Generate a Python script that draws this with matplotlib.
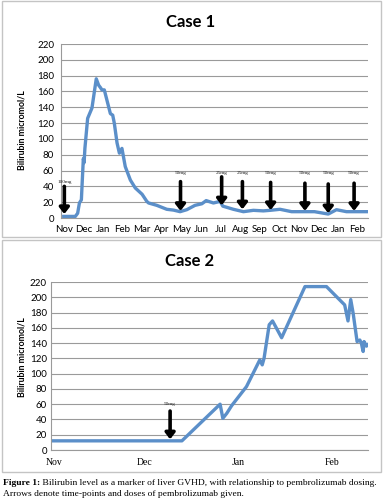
import matplotlib
matplotlib.use("Agg")
import matplotlib.pyplot as plt
from matplotlib.patches import Rectangle

# ---------------- data ----------------
c1_month_labels = ["Nov", "Dec", "Jan", "Feb", "Mar", "Apr", "May", "Jun",
                   "Jul", "Aug", "Sep", "Oct", "Nov", "Dec", "Jan", "Feb"]
c1_x = [0.0, 0.59, 0.71, 0.8, 0.9, 1.0, 1.04, 1.08, 1.22, 1.44, 1.66, 1.78,
        1.87, 1.95, 2.07, 2.38, 2.5, 2.58, 2.72, 2.84, 2.97, 3.14, 3.4, 3.65,
        4.0, 4.24, 4.33, 4.75, 5.26, 5.6, 5.94, 6.28, 6.7, 7.05, 7.27, 7.64,
        7.98, 8.12, 8.66, 9.17, 9.68, 10.19, 10.53, 11.04, 11.63, 12.14, 12.8,
        13.5, 13.92, 14.43, 14.94, 15.53]
c1_y = [2, 2, 6, 19, 23, 75, 70, 88, 126, 139, 176, 168,
        165, 162, 162, 132, 130, 120, 95, 82, 88, 65, 48, 38,
        30, 21, 19, 16, 11, 10, 8, 10.5, 16, 18, 22, 19,
        21, 15, 11, 8, 9.7, 9, 9.7, 11, 8, 8, 8,
        5, 10.5, 8, 8, 8]
c1_dose_x = [0.03, 5.96, 8.06, 9.12, 10.56, 12.31, 13.5, 14.82]
c1_dose_top = [40, 46, 52, 46, 45, 44, 43, 44]
c1_dose_tip = [5, 9, 16, 11, 10, 9, 6, 9]
c1_dose_label = ["100mg", "50mg", "25mg", "25mg", "50mg", "50mg", "50mg", "50mg"]
c1_label_y = [46, 57, 57, 57, 57, 57, 57, 57]

c2_month_labels = ["Nov", "Dec", "Jan", "Feb"]
c2_month_pos = [0, 30, 61, 92]
c2_x = [-0.9, 42.3, 54.9, 55.8, 57.1, 58.7, 63.6, 68.0, 68.8, 69.4, 71.1,
        72.2, 75.2, 82.9, 90.0, 96.0, 97.1, 98.0, 98.8, 100.1, 101.0, 101.5,
        102.1, 102.4, 103.2, 103.7]
c2_y = [12, 12, 60, 41.5, 48, 58, 83, 118, 111.5, 120, 164,
        169, 147, 214, 214, 190, 169, 197, 179, 142, 144, 140,
        129, 142, 136, 138]
c2_dose_x = [38.4]
c2_dose_top = [51]
c2_dose_tip = [14]
c2_dose_label = ["50mg"]
c2_label_y = [60]

yticks = list(range(0, 221, 20))

caption_bold = "Figure 1:"
caption_rest = " Bilirubin level as a marker of liver GVHD, with relationship to pembrolizumab dosing."
caption_line2 = "Arrows denote time-points and doses of pembrolizumab given."

# ---------------- figure ----------------
W, H = 383, 500
fig = plt.figure(figsize=(W / 100, H / 100), dpi=100)
fig.patch.set_facecolor("white")

LINE = "#5B8FC9"
GRID = "#9a9a9a"
SANS = ["Lato", "DejaVu Sans"]
SERIF = ["Liberation Serif", "DejaVu Serif"]

def px_box(l, t, r, b):
    return [l / W, 1 - b / H, (r - l) / W, (b - t) / H]

# panel borders
for (l, t, r, b) in [(2, 1, 381, 237), (2, 240, 381, 472)]:
    fig.patches.append(Rectangle((l / W, 1 - b / H), (r - l) / W, (b - t) / H,
                                 transform=fig.transFigure, fill=False,
                                 edgecolor="#c4c4c4", lw=1.0))

def style_axes(ax):
    ax.set_ylim(0, 220)
    ax.set_yticks(yticks)
    ax.grid(axis="y", color=GRID, lw=0.8)
    ax.set_axisbelow(True)
    for s in ["top", "right"]:
        ax.spines[s].set_visible(False)
    ax.spines["left"].set_color(GRID)
    ax.spines["bottom"].set_color(GRID)
    ax.tick_params(length=0)
    for lab in ax.get_yticklabels():
        lab.set_family(SANS)
        lab.set_fontsize(7)

def draw_doses(ax, xs, tops, tips, labels, label_ys):
    for x, t, p, lab, ly in zip(xs, tops, tips, labels, label_ys):
        ax.annotate("", xy=(x, p), xytext=(x, t),
                    arrowprops=dict(arrowstyle="-|>,head_width=0.35,head_length=0.45",
                                    lw=2.6, color="black", shrinkA=0, shrinkB=0,
                                    mutation_scale=8))
        ax.text(x, ly, lab, ha="center", va="center", fontsize=3.8,
                family=SERIF, color="#222222")

# ---- Case 1 ----
ax1 = fig.add_axes(px_box(61, 44, 368, 218))
ax1.plot(c1_x, c1_y, color=LINE, lw=2.4, solid_joinstyle="round")
ax1.set_xlim(-0.14, 15.53)
ax1.set_xticks(range(len(c1_month_labels)))
ax1.set_xticklabels(c1_month_labels, family=SANS, fontsize=7)
style_axes(ax1)
ax1.tick_params(axis="y", pad=5)
ax1.tick_params(axis="x", pad=5)
draw_doses(ax1, c1_dose_x, c1_dose_top, c1_dose_tip, c1_dose_label, c1_label_y)

fig.text(191 / W, 1 - 22 / H, "Case 1", ha="center", va="center",
         fontsize=12, fontweight="bold", family=SANS)
fig.text(22 / W, 1 - 130 / H, "Bilirubin micromol/L", ha="center", va="center",
         rotation=90, fontsize=6.3, fontweight="bold", family=SANS)

# ---- Case 2 ----
ax2 = fig.add_axes(px_box(51, 282, 368, 450))
ax2.plot(c2_x, c2_y, color=LINE, lw=2.4, solid_joinstyle="round")
ax2.set_xlim(-0.9, 103.7)
ax2.set_xticks(c2_month_pos)
ax2.set_xticklabels(c2_month_labels, family=SERIF, fontsize=7)
style_axes(ax2)
ax2.tick_params(axis="y", pad=3)
ax2.tick_params(axis="x", pad=6)
draw_doses(ax2, c2_dose_x, c2_dose_top, c2_dose_tip, c2_dose_label, c2_label_y)

fig.text(190 / W, 1 - 261 / H, "Case 2", ha="center", va="center",
         fontsize=12, fontweight="bold", family=SANS)
fig.text(22 / W, 1 - 357 / H, "Bilirubin micromol/L", ha="center", va="center",
         rotation=90, fontsize=6.3, fontweight="bold", family=SANS)

# ---- caption (fit first line to span x=3..379 px) ----
fs = 7.0
t_bold = fig.text(3 / W, 1 - 483 / H, caption_bold, ha="left", va="center",
                  fontsize=fs, family=SERIF, fontweight="bold")
t_rest = fig.text(0, 1 - 483 / H, caption_rest, ha="left", va="center",
                  fontsize=fs, family=SERIF)
fig.canvas.draw()
r = fig.canvas.get_renderer()
total = t_bold.get_window_extent(r).width + t_rest.get_window_extent(r).width
fs = fs * (376.0 / total)
t_bold.set_fontsize(fs)
t_rest.set_fontsize(fs)
fig.canvas.draw()
bb = t_bold.get_window_extent(r)
t_rest.set_x(bb.x1 / W)
fig.text(3 / W, 1 - 494 / H, caption_line2, ha="left", va="center",
         fontsize=fs, family=SERIF)

fig.savefig("out.png", dpi=100, facecolor="white")
